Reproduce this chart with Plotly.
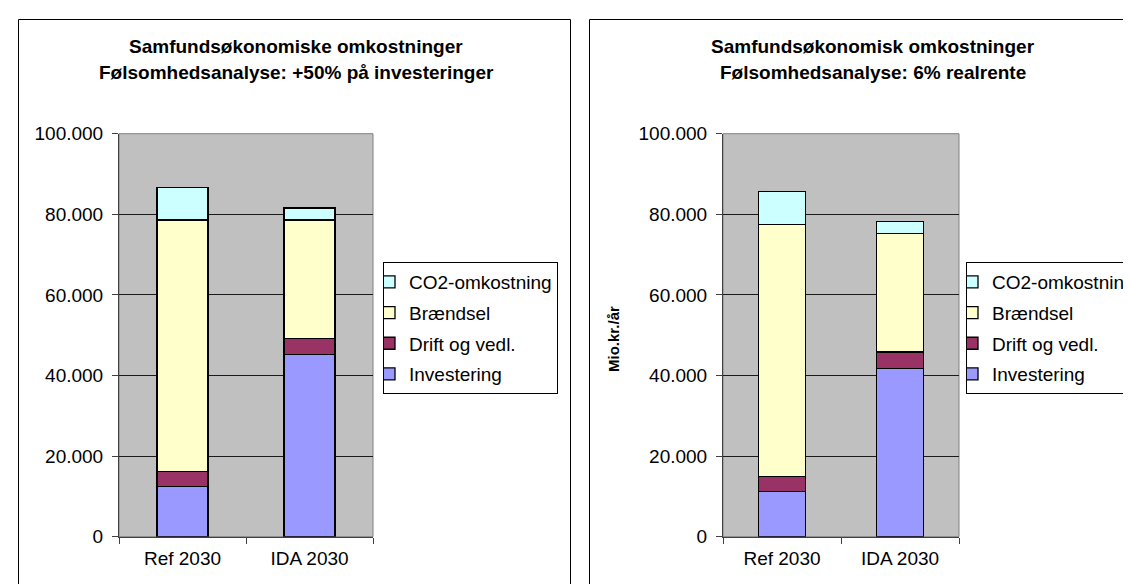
import plotly.graph_objects as go

W, H = 1131, 584

categories = ["Ref 2030", "IDA 2030"]

# Left panel: +50% på investeringer
investering_a = [12400, 45200]
drift_a = [3700, 3900]
braendsel_a = [62500, 29500]
co2_a = [8000, 3000]

# Right panel: 6% realrente
investering_b = [11300, 41800]
drift_b = [3700, 4000]
braendsel_b = [62500, 29500]
co2_b = [8100, 3000]

series_names = ["Investering", "Drift og vedl.", "Brændsel", "CO2-omkostning"]
series_colors = ["#9999FF", "#993366", "#FFFFCC", "#CCFFFF"]

title_a = ["Samfundsøkonomiske omkostninger", "Følsomhedsanalyse: +50% på investeringer"]
title_b = ["Samfundsøkonomisk omkostninger", "Følsomhedsanalyse: 6% realrente"]
ytitle_b = "Mio.kr./år"
yticks = [0, 20000, 40000, 60000, 80000, 100000]

FONT = "Liberation Sans, Arial, sans-serif"

def px(x):
    return x / W

def py(y):
    return 1 - y / H

fig = go.Figure()

panels = [
    (dict(zip(series_names, [investering_a, drift_a, braendsel_a, co2_a])), "x", "y", "legend", "a"),
    (dict(zip(series_names, [investering_b, drift_b, braendsel_b, co2_b])), "x2", "y2", "legend2", "b"),
]
for data, xa, ya, lg, tag in panels:
    n = len(series_names)
    for i, (name, col) in enumerate(zip(series_names, series_colors)):
        fig.add_trace(go.Bar(
            x=categories, y=data[name], name=name,
            marker=dict(color=col, line=dict(color="black", width=1.3)),
            width=0.4, xaxis=xa, yaxis=ya, legend=lg,
            legendgroup=name + tag, legendrank=n - i, showlegend=True,
        ))

ydom = [py(528.7), py(125.7)]
axis_common_y = dict(
    range=[0, 100000], tickvals=yticks, tickformat=",d",
    showgrid=True, gridcolor="#1a1a1a", gridwidth=1,
    showline=True, linecolor="#404040", linewidth=1,
    ticks="outside", ticklen=6, tickcolor="#404040",
    tickfont=dict(family=FONT, size=19, color="black"),
    ticklabelstandoff=5, zeroline=False, fixedrange=True,
)
axis_common_x = dict(
    type="category", showgrid=False,
    showline=True, linecolor="#404040", linewidth=1,
    ticks="outside", ticklen=6, tickcolor="#404040", tickson="boundaries",
    tickfont=dict(family=FONT, size=19, color="black"),
    ticklabelstandoff=4, fixedrange=True,
)

legend_common = dict(
    bgcolor="white", bordercolor="black", borderwidth=1,
    font=dict(family=FONT, size=19, color="black"),
    traceorder="grouped", tracegroupgap=3, indentation=-15,
    xanchor="left", yanchor="top", itemwidth=30,
)

fig.update_layout(
    width=W, height=H,
    margin=dict(l=0, r=0, t=0, b=0, autoexpand=False),
    paper_bgcolor="white", plot_bgcolor="#C0C0C0",
    barmode="stack", bargap=0.6,
    separators=",.",
    showlegend=True,
    xaxis=dict(domain=[px(111), px(365)], anchor="y", **axis_common_x),
    yaxis=dict(domain=ydom, anchor="x", **axis_common_y),
    xaxis2=dict(domain=[px(715), px(951)], anchor="y2", **axis_common_x),
    yaxis2=dict(domain=ydom, anchor="x2", **axis_common_y),
    legend=dict(x=px(375), y=py(254), **legend_common),
    legend2=dict(x=px(958), y=py(254), **legend_common),
)

shapes = []
# gray plot-area borders
for xr, yr in [("x domain", "y domain"), ("x2 domain", "y2 domain")]:
    shapes.append(dict(type="rect", xref=xr, yref=yr, x0=0, x1=1, y0=0, y1=1,
                       line=dict(color="#808080", width=1), layer="below"))
# chart panel borders
shapes.append(dict(type="rect", xref="paper", yref="paper",
                   x0=px(10.5), x1=px(562.5), y0=-0.1, y1=py(11.5),
                   line=dict(color="black", width=1)))
shapes.append(dict(type="rect", xref="paper", yref="paper",
                   x0=px(581.5), x1=1.1, y0=-0.1, y1=py(11.5),
                   line=dict(color="black", width=1)))
fig.update_layout(shapes=shapes)

annotations = []
for (l1, l2), cx in [(title_a, 288), (title_b, 865)]:
    annotations.append(dict(text="<b>%s</b>" % l1, x=px(cx), y=py(39), xref="paper", yref="paper",
                            showarrow=False, xanchor="center", yanchor="middle",
                            font=dict(family=FONT, size=19, color="black")))
    annotations.append(dict(text="<b>%s</b>" % l2, x=px(cx), y=py(65), xref="paper", yref="paper",
                            showarrow=False, xanchor="center", yanchor="middle",
                            font=dict(family=FONT, size=19, color="black")))
annotations.append(dict(text="<b>%s</b>" % ytitle_b, x=px(605), y=py(331), xref="paper", yref="paper",
                        showarrow=False, textangle=-90, xanchor="center", yanchor="middle",
                        font=dict(family=FONT, size=15, color="black")))
fig.update_layout(annotations=annotations)

fig.write_html("out.html")
